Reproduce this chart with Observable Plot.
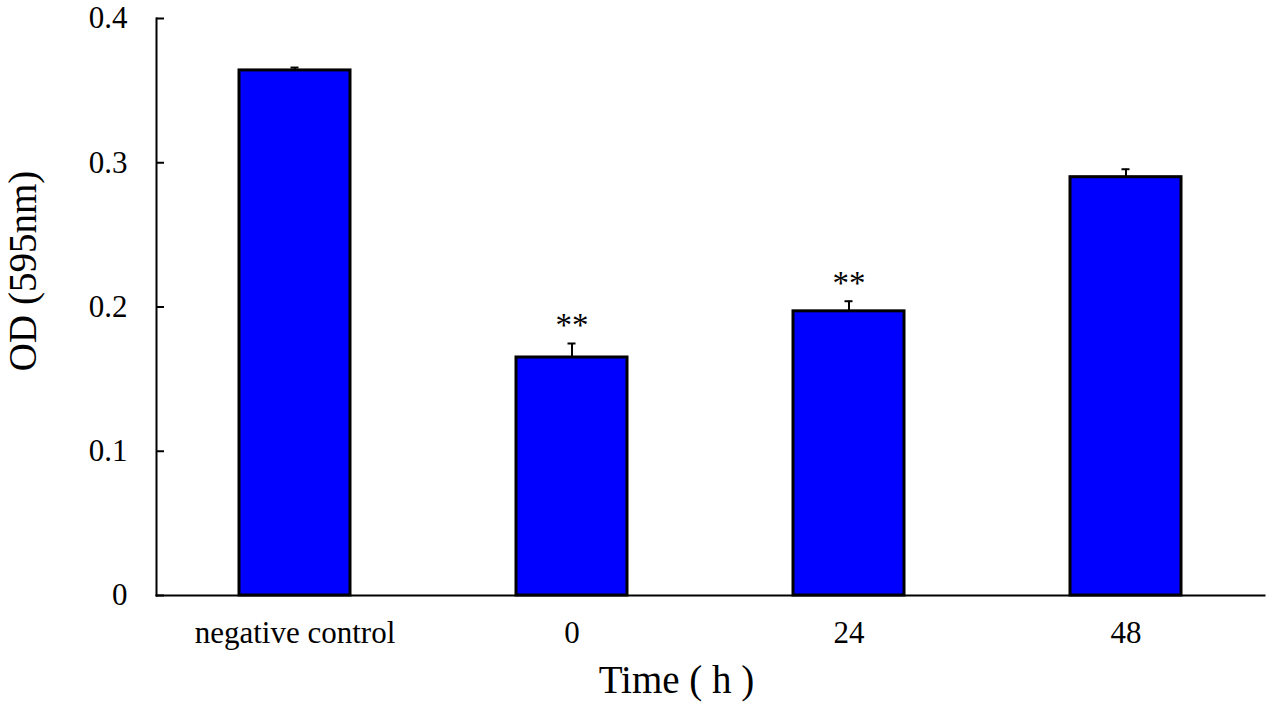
<!DOCTYPE html>
<html>
<head>
<meta charset="utf-8">
<script src="https://cdn.jsdelivr.net/npm/d3@7"></script>
<script src="https://cdn.jsdelivr.net/npm/@observablehq/plot@0.6"></script>
<style>
  html, body { margin: 0; padding: 0; background: white; }
</style>
</head>
<body>
<div id="chart"></div>
<script>
const categories = ["negative control", "0", "24", "48"];
const values = [0.364, 0.165, 0.197, 0.290];
const errors = [0.002, 0.0097, 0.007, 0.0055];
const significance = ["", "**", "**", ""];
const yTicks = [0, 0.1, 0.2, 0.3, 0.4];
const xTitle = "Time ( h )";
const yTitle = "OD (595nm)";

const data = categories.map((c, i) => ({cat: c, value: values[i], err: errors[i], sig: significance[i], top: values[i] + errors[i]}));

const chart = Plot.plot({
  width: 1272,
  height: 706,
  marginLeft: 156,
  marginRight: 8,
  marginTop: 18,
  marginBottom: 111,
  style: {fontFamily: "'Liberation Serif', 'Times New Roman', serif", background: "white", color: "black"},
  x: {domain: categories, paddingInner: 0.6, paddingOuter: 0.3, label: null},
  y: {domain: [0, 0.4], label: null},
  marks: [
    Plot.barY(data, {x: "cat", y: "value", fill: "#0000FF", stroke: "black", strokeWidth: 3}),
    Plot.ruleX(data, {x: "cat", y1: "value", y2: "top", stroke: "black", strokeWidth: 2}),
    Plot.tickY(data, {x: "cat", y: "top", stroke: "black", strokeWidth: 2, insetLeft: 51.5, insetRight: 51.5}),
    Plot.text(data.filter(d => d.sig), {x: "cat", y: "top", text: "sig", fontSize: 33, lineAnchor: "bottom", dy: -7, fill: "black"}),
    Plot.frame({anchor: "left", stroke: "black", strokeWidth: 2}),
    Plot.frame({anchor: "bottom", stroke: "black", strokeWidth: 2}),
    Plot.ruleY(yTicks, {stroke: "black", strokeWidth: 2, insetRight: 1100}),
    Plot.axisY({ticks: yTicks, tickSize: 0, tickPadding: 29, fontSize: 31, tickFormat: d => d === 0 ? "0" : d3.format(".1f")(d), label: null}),
    Plot.axisX({tickSize: 0, tickPadding: 25, fontSize: 31, label: null}),
    Plot.text([yTitle], {frameAnchor: "left", textAnchor: "middle", lineAnchor: "middle", rotate: -90, dx: -133, dy: -36, fontSize: 39, fill: "black"}),
    Plot.text([xTitle], {frameAnchor: "bottom", textAnchor: "middle", lineAnchor: "middle", dx: -34, dy: 85, fontSize: 39, fill: "black"})
  ]
});
document.getElementById("chart").appendChild(chart);
</script>
</body>
</html>
